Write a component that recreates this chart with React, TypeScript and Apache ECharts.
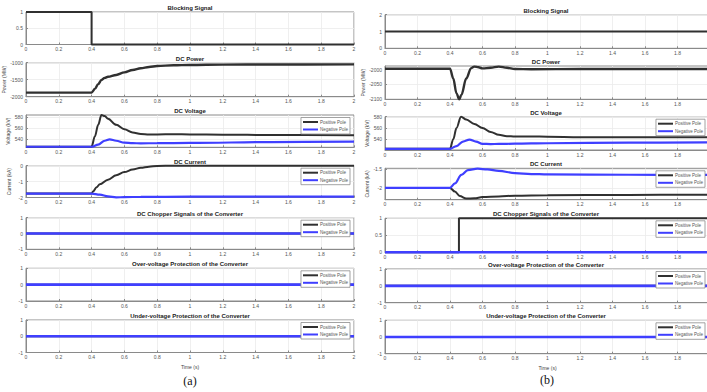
import React, { useEffect, useRef } from "react";
import * as echarts from "echarts";

type P = [number, number][];

// ---------- data (time in s, value) ----------
const titles = [
  "Blocking Signal",
  "DC Power",
  "DC Voltage",
  "DC Current",
  "DC Chopper Signals of the Converter",
  "Over-voltage Protection of the Converter",
  "Under-voltage Protection of the Converter",
];
const yNames = ["", "Power (MW)", "Voltage (kV)", "Current (kA)", "", "", ""];

// (a) left column
const blockingA: P = [[0, 1], [0.4, 1], [0.4, 0], [2, 0]];
const powerA: P = [
  [0, -1880], [0.4, -1880], [0.42, -1770], [0.44, -1630], [0.46, -1510], [0.48, -1445],
  [0.5, -1415], [0.55, -1360], [0.6, -1285], [0.65, -1215], [0.7, -1165], [0.75, -1125],
  [0.8, -1098], [0.9, -1076], [1.0, -1066], [1.2, -1056], [1.5, -1051], [2, -1050],
];
const voltPosA: P = [
  [0, 526], [0.4, 526], [0.42, 545], [0.44, 566], [0.46, 584], [0.48, 582], [0.5, 577],
  [0.55, 566], [0.6, 558], [0.65, 552], [0.7, 549.5], [0.75, 548.5], [0.8, 548.5],
  [0.9, 549], [1.0, 548.5], [1.2, 548], [1.5, 547.5], [2, 547],
];
const voltNegA: P = [
  [0, 526], [0.4, 526], [0.44, 530], [0.48, 537], [0.51, 539.5], [0.55, 537], [0.6, 533.5],
  [0.65, 532.5], [0.7, 532.3], [0.8, 532.5], [1.0, 533], [1.5, 534.5], [2, 535.5],
];
const curPosA: P = [
  [0, -1.75], [0.4, -1.75], [0.41, -1.6], [0.43, -1.35], [0.45, -1.17], [0.5, -0.88],
  [0.55, -0.6], [0.6, -0.4], [0.65, -0.24], [0.7, -0.13], [0.75, -0.06], [0.8, -0.02],
  [0.9, 0], [2, 0],
];
const curNegA: P = [
  [0, -1.75], [0.4, -1.75], [0.45, -1.82], [0.5, -1.93], [0.55, -1.99], [0.6, -1.98],
  [0.7, -1.96], [1.0, -1.95], [2, -1.95],
];
const zeroSignal: P = [[0, 0], [2, 0]];

// (b) right column
const blockingB: P = [[0, 1], [2, 1]];
const powerB: P = [
  [0, -1997], [0.4, -1997], [0.42, -2030], [0.44, -2080], [0.457, -2100], [0.47, -2085],
  [0.5, -2030], [0.53, -1995], [0.55, -1990], [0.575, -1992], [0.6, -1996], [0.65, -1994],
  [0.7, -1990], [0.75, -1994], [0.8, -1998], [0.9, -1999], [1.2, -1998], [2, -1998],
];
const voltPosB: P = [
  [0, 523], [0.4, 523], [0.42, 540], [0.44, 560], [0.468, 580], [0.5, 575], [0.55, 567],
  [0.6, 560], [0.65, 553], [0.7, 548], [0.75, 545.5], [0.8, 544.8], [0.9, 545], [1.0, 544.5],
  [1.2, 543.8], [1.5, 543.5], [2, 543.5],
];
const voltNegB: P = [
  [0, 523], [0.4, 523], [0.44, 528], [0.48, 536], [0.52, 539.5], [0.56, 536], [0.6, 532],
  [0.65, 531.5], [0.7, 531.7], [0.8, 532.2], [1.0, 533], [1.5, 534], [2, 534.6],
];
const curPosB: P = [
  [0, -2.0], [0.4, -2.0], [0.43, -2.1], [0.46, -2.22], [0.5, -2.29], [0.55, -2.28],
  [0.6, -2.25], [0.7, -2.23], [0.8, -2.21], [1.0, -2.2], [1.5, -2.19], [2, -2.185],
];
const curNegB: P = [
  [0, -2.0], [0.4, -2.0], [0.43, -1.88], [0.47, -1.65], [0.51, -1.52], [0.57, -1.48],
  [0.63, -1.5], [0.7, -1.54], [0.8, -1.6], [0.9, -1.625], [1.0, -1.635], [1.5, -1.645], [2, -1.65],
];
const chopperPosB: P = [[0, 0], [0.455, 0], [0.455, 1], [2, 1]];

// y-axis ranges and tick labels
const yMinA = [0, -2000, 525, -2, -1, -1, -1];
const yMaxA = [1, -1000, 584, 0, 1, 1, 1];
const yTicksA = [[0, 0.5, 1], [-2000, -1500, -1000], [540, 560, 580], [-2, -1, 0], [-1, 0, 1], [-1, 0, 1], [-1, 0, 1]];
const yMinB = [0, -2100, 521, -2.32, 0, -1, -1];
const yMaxB = [2, -1988, 580, -1.47, 1, 1, 1];
const yTicksB = [[0, 1, 2], [-2100, -2050, -2000], [540, 560, 580], [-2, -1.5], [0, 0.5, 1], [-1, 0, 1], [-1, 0, 1]];

// ---------- layout ----------
const colA = { left: 26, width: 328, tops: [12, 62.7, 115, 165.7, 217.7, 268.3, 320], bottoms: [44.5, 96.7, 147.3, 197.5, 249.3, 301, 352.5] };
const colB = { left: 385, width: 325, tops: [14.7, 66, 116.7, 168.3, 218.3, 269, 320.3], bottoms: [48.3, 99.3, 150, 199.7, 252.3, 302.7, 353.7] };

const BLACK = "#303030";
const BLUE = "#3f3fff";
const AXIS = "#8a8a8a";
const LABEL = "#555";

function buildOption() {
  const grid: any[] = [];
  const xAxis: any[] = [];
  const yAxis: any[] = [];
  const series: any[] = [];
  const legend: any[] = [];
  const graphic: any[] = [];

  const cols = [
    { c: colA, mins: yMinA, maxs: yMaxA, ticks: yTicksA, side: "A" },
    { c: colB, mins: yMinB, maxs: yMaxB, ticks: yTicksB, side: "B" },
  ];

  const seriesFor = (side: string, i: number): { name: string; data: P; color: string; w: number }[] => {
    if (side === "A") {
      if (i === 0) return [{ name: "Blocking", data: blockingA, color: BLACK, w: 2 }];
      if (i === 1) return [{ name: "Power", data: powerA, color: BLACK, w: 2.4 }];
      if (i === 2) return [
        { name: "Positive Pole", data: voltPosA, color: BLACK, w: 2 },
        { name: "Negative Pole", data: voltNegA, color: BLUE, w: 2.2 },
      ];
      if (i === 3) return [
        { name: "Positive Pole", data: curPosA, color: BLACK, w: 2 },
        { name: "Negative Pole", data: curNegA, color: BLUE, w: 2.2 },
      ];
      return [
        { name: "Positive Pole", data: zeroSignal, color: BLACK, w: 2 },
        { name: "Negative Pole", data: zeroSignal, color: BLUE, w: 2.6 },
      ];
    }
    if (i === 0) return [{ name: "Blocking", data: blockingB, color: BLACK, w: 2 }];
    if (i === 1) return [{ name: "Power", data: powerB, color: BLACK, w: 2.4 }];
    if (i === 2) return [
      { name: "Positive Pole", data: voltPosB, color: BLACK, w: 2 },
      { name: "Negative Pole", data: voltNegB, color: BLUE, w: 2.2 },
    ];
    if (i === 3) return [
      { name: "Positive Pole", data: curPosB, color: BLACK, w: 2 },
      { name: "Negative Pole", data: curNegB, color: BLUE, w: 2.2 },
    ];
    if (i === 4) return [
      { name: "Positive Pole", data: chopperPosB, color: BLACK, w: 2 },
      { name: "Negative Pole", data: zeroSignal, color: BLUE, w: 2.6 },
    ];
    return [
      { name: "Positive Pole", data: zeroSignal, color: BLACK, w: 2 },
      { name: "Negative Pole", data: zeroSignal, color: BLUE, w: 2.6 },
    ];
  };

  let idx = 0;
  cols.forEach(({ c, mins, maxs, ticks, side }) => {
    for (let i = 0; i < 7; i++) {
      const top = c.tops[i];
      const h = c.bottoms[i] - top;
      grid.push({
        left: c.left, top, width: c.width, height: h,
        show: true, borderColor: AXIS, borderWidth: 1, backgroundColor: "#fff",
        containLabel: false, outerBoundsMode: "none",
      });
      xAxis.push({
        type: "value", gridIndex: idx, min: 0, max: 2, interval: 0.2,
        axisLine: { show: true, onZero: false, lineStyle: { color: AXIS, width: 1 } },
        axisTick: { show: true, inside: true, length: 2, lineStyle: { color: AXIS } },
        axisLabel: {
          fontSize: 5, color: LABEL, margin: 2, fontFamily: "Liberation Sans",
          showMaxLabel: side === "A",
          formatter: (v: number) => String(Math.round(v * 10) / 10),
        },
        splitLine: { show: true, lineStyle: { color: "#ebebeb", width: 0.8 } },
        name: i === 6 ? "Time (s)" : "",
        nameLocation: "middle", nameGap: 12,
        nameTextStyle: { fontSize: 5, color: "#444", fontFamily: "Liberation Sans" },
      });
      const tv = ticks[i];
      yAxis.push({
        type: "value", gridIndex: idx, min: mins[i], max: maxs[i],
        axisLine: { show: true, onZero: false, lineStyle: { color: AXIS, width: 1 } },
        axisTick: { show: true, inside: true, length: 2, lineStyle: { color: AXIS }, customValues: tv },
        axisLabel: {
          fontSize: 5, color: LABEL, margin: 3, fontFamily: "Liberation Sans",
          customValues: tv, formatter: (v: number) => String(v),
        },
        splitLine: { show: true, lineStyle: { color: "#ebebeb", width: 0.8 }, customValues: tv },
        name: yNames[i], nameLocation: "middle", nameGap: 15,
        nameTextStyle: { fontSize: 5, color: "#444", fontFamily: "Liberation Sans" },
      });
      seriesFor(side, i).forEach((s) => {
        series.push({
          type: "line", name: s.name, data: s.data, xAxisIndex: idx, yAxisIndex: idx,
          showSymbol: false, symbol: "none", clip: false,
          smooth: s.data.length > 4 ? 0.35 : false, smoothMonotone: "x",
          lineStyle: { color: s.color, width: s.w }, itemStyle: { color: s.color },
        });
      });
      if (i >= 2) {
        legend.push({
          data: ["Positive Pole", "Negative Pole"],
          orient: "vertical",
          right: side === "A" ? 707 - 350 : 2,
          top: top + 2.5,
          itemWidth: 15, itemHeight: 2, itemGap: 2.5, icon: "rect",
          padding: [2, 2, 2, 2],
          borderColor: "#8c8c8c", borderWidth: 0.8, backgroundColor: "#fff",
          textStyle: { fontSize: 4.5, color: "#555", fontFamily: "Liberation Sans", padding: [0, 0, 0, -3] },
          selectedMode: false,
        });
      }
      graphic.push({
        type: "text",
        style: {
          text: titles[i], x: c.left + (side === "A" ? c.width : 322) / 2, y: top - 4,
          align: "center", verticalAlign: "middle",
          font: "bold 6px 'Liberation Sans'", fill: "#222",
        },
      });
      idx++;
    }
  });

  graphic.push({
    type: "text",
    style: { text: "(a)", x: 190, y: 381, align: "center", verticalAlign: "middle", font: "12px 'Liberation Serif'", fill: "#111" },
  });
  graphic.push({
    type: "text",
    style: { text: "(b)", x: 547, y: 380, align: "center", verticalAlign: "middle", font: "12px 'Liberation Serif'", fill: "#111" },
  });

  return { animation: false, backgroundColor: "#fff", grid, xAxis, yAxis, series, legend, graphic };
}

export default function App() {
  const ref = useRef<HTMLDivElement>(null);
  useEffect(() => {
    if (!ref.current) return;
    const chart = echarts.init(ref.current, null, { renderer: "svg" });
    chart.setOption(buildOption() as any);
    return () => chart.dispose();
  }, []);
  return <div ref={ref} style={{ position: "fixed", left: 0, top: 0, width: 707, height: 392 }} />;
}
